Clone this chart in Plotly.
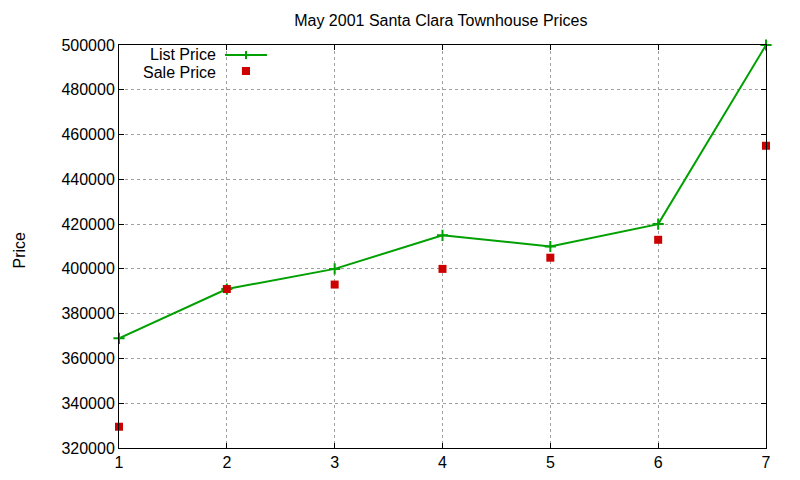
import plotly.graph_objects as go

# Townhouse prices, May 2001
listing = [1, 2, 3, 4, 5, 6, 7]
list_price = [369000, 391000, 400000, 415000, 410000, 420000, 500000]
sale_price = [329500, 391000, 393000, 400000, 405000, 413000, 455000]

GREEN = "#00a000"
RED = "#cc0000"
FONT = "Liberation Sans, Arial, sans-serif"

fig = go.Figure()
fig.add_trace(go.Scatter(
    x=listing, y=list_price, mode="lines+markers", name="List Price",
    line=dict(color=GREEN, width=2),
    marker=dict(symbol="cross-thin", size=8, line=dict(color=GREEN, width=2)),
    cliponaxis=False,
))
fig.add_trace(go.Scatter(
    x=listing, y=sale_price, mode="markers", name="Sale Price",
    marker=dict(symbol="square", size=8, color=RED),
    cliponaxis=False,
))

axis_common = dict(
    showline=True, linecolor="black", linewidth=1, mirror="ticks",
    ticks="inside", ticklen=5, tickcolor="black",
    showgrid=True, gridcolor="#a0a0a0", griddash="dot", gridwidth=1,
    zeroline=False, tickfont=dict(family=FONT, size=16, color="black"),
)
fig.update_xaxes(range=[1, 7], dtick=1, **axis_common)
fig.update_yaxes(range=[320000, 500000], dtick=20000, tickformat="d", **axis_common)

txt = dict(family=FONT, size=16, color="black")

# y-axis label
fig.add_annotation(text="Price", xref="paper", yref="paper", x=-0.154, y=0.491,
                   xanchor="center", yanchor="middle", textangle=-90,
                   showarrow=False, font=txt, borderpad=0)

# gnuplot-style key: text on the left, sample on the right
fig.add_annotation(text="List Price", xref="paper", yref="paper", x=0.1515, y=0.977,
                   xanchor="right", yanchor="middle", showarrow=False, font=txt,
                   borderpad=0)
fig.add_annotation(text="Sale Price", xref="paper", yref="paper", x=0.1515, y=0.933,
                   xanchor="right", yanchor="middle", showarrow=False, font=txt,
                   borderpad=0)
fig.add_shape(type="line", xref="paper", yref="paper", x0=0.1638, x1=0.2287, y0=0.975, y1=0.975,
              line=dict(color=GREEN, width=2))
fig.add_shape(type="line", xref="paper", yref="paper", x0=0.1963, x1=0.1963, y0=0.965, y1=0.985,
              line=dict(color=GREEN, width=2))
fig.add_shape(type="rect", xref="paper", yref="paper", x0=0.190, x1=0.2025, y0=0.9256, y1=0.9454,
              line=dict(width=0), fillcolor=RED)

fig.update_layout(
    width=800, height=480,
    margin=dict(l=111, r=42, t=37, b=40),
    title=dict(text="May 2001 Santa Clara Townhouse Prices", x=0.541, xanchor="center",
               y=0.975, yanchor="middle", font=txt),
    plot_bgcolor="white", paper_bgcolor="white",
    showlegend=False,
)

fig.write_html("out.html")
